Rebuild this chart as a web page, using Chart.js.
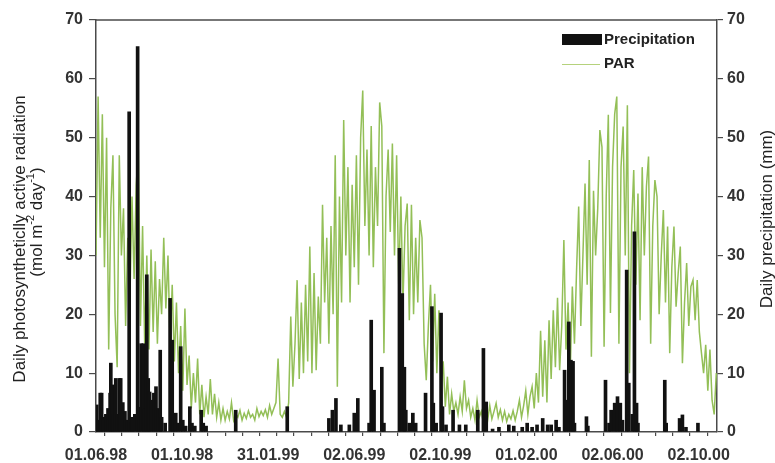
<!DOCTYPE html>
<html><head><meta charset="utf-8">
<script src="https://cdn.jsdelivr.net/npm/chart.js@4"></script>
<style>html,body{margin:0;padding:0;background:#fff;}#wrap{width:775px;height:463px;}</style>
</head><body><div id="wrap"><canvas id="c" width="775" height="463"></canvas></div>
<script>
// ---- data ----
const tickLabels = ['01.06.98','01.10.98','31.01.99','02.06.99','02.10.99','01.02.00','02.06.00','02.10.00'];
const daysPerLabel = 122;      // days between labelled ticks
const minorPerLabel = 5;       // tick intervals between labels
const totalDays = 880;
const parStep = 3;             // PAR sampled every 3 days from 01.06.98
const parValues = [
30,57,33,54,28,50,14,38,47,20,
11,47,30,38,18,33,22,40,26,42,
48,18,35,15,30,14,31,17,29,15,
26,20,33,21,30,15,25,12,22,10,
18,7,21,8,13,4,10,5,12.5,3,
8,2.5,6,3,9,3,6.5,2.5,5,2,
4,2,3.5,2.2,5,2,3,2.5,3.7,2,
3.2,2.3,3.6,2.5,3,2,4,2.6,3.5,2.8,
3.8,2.5,4.5,3,4,5,12.5,3,2.5,3.5,
2.5,5,19.6,7.7,15,25.8,9,22,10,25,
12,31.5,10,27,10.5,23,15,38.6,22,33,
15,35,20,47,7.7,40,22,53,30,45,
22,42,28,47,25,50,58,35,48,30,
52,28,45,35,56,52,13.4,40,48,34,
49,30,47,25,40,22,35,38.8,19,38.6,
20,33,22,36,33,15,8.8,18,25,12,
23.5,10,20.7,8,12,4.3,9.4,3,6.5,3.5,
5,3,6,3.5,8.8,4,5.4,2.5,4,2,
5.4,2.5,3.5,1.5,3,2,4.5,2.2,3.5,4.9,
2.5,3.8,2,3.5,1.8,3,2.2,3.6,2,3.5,
5.4,2.5,4.5,7,3,6,7.7,4,10,5,
17.2,6,15.6,5,19,9,20.7,11,22.8,10.5,
18,32.6,14,22,10,24.7,15,27.5,38.3,18,
30,42.2,25,46.2,12.8,41,30,38,51.3,48.4,
14.5,40,53.9,20.2,45,54,57,15,45,51.9,
30,55.5,10,35,44.5,25,40.5,19,45,30,
41.7,46.8,15,35,42.8,40,20,30,37.7,22,
34.9,13.4,28,34.9,21.3,27,31.5,11.7,22,28.7,
18,24.7,25.8,19,25.8,17,13.4,10,14.8,7,
14,5.4,3,10
];
const rainDays = [1,3,6,8,11,14,17,20,21,23,25,28,30,33,35,38,41,44,47,50,52,55,59,61,64,67,69,72,74,76,79,82,85,88,91,93,98,105,108,110,113,116,120,123,127,133,136,140,149,152,156,198,271,330,335,340,347,359,366,371,387,390,394,405,408,430,434,437,439,444,449,453,467,476,478,482,489,491,496,506,515,524,541,549,553,562,571,585,592,604,611,618,625,633,640,645,652,656,664,666,670,673,676,678,695,697,722,727,730,735,739,743,746,752,755,760,763,766,768,806,808,827,831,836,853];
const rainMm = [4.6,2,6.6,6.6,2.5,3,4,6.6,11.7,8,3,9.1,3,9.1,9.1,5,3.5,2,54.4,1.5,2.5,3,65.5,4.2,15,15,4,26.7,9.1,6.8,5.4,6.6,7.7,4,13.9,2.5,1.5,22.7,15.6,3,3.2,1.5,14.5,2,1,4.3,1.5,1,3.7,1.5,1,3.7,4.3,2.3,3.7,5.7,1.2,1.2,3.2,5.7,1.5,19,7.1,11,1.5,31.2,23.5,11,3.7,1.5,3.2,1.5,6.6,21.3,4.9,1.5,20.2,4.3,1.2,3.7,1.2,1.2,3.7,14.2,5.1,0.5,0.8,1.2,1,0.8,1.5,0.8,1.2,2.3,1.2,1.2,2,0.8,10.5,5.4,18.7,12.2,12,1.5,2.6,1,8.8,1.5,3.7,4.9,6,4.9,2,27.5,8.3,3,34,4.9,1.5,8.8,1.5,2.3,2.9,0.8,1.5];

const leftTitle1 = 'Daily photosyntheticlly active radiation';
const leftTitle2 = [['(mol m',false],['-2',true],[' day',false],['-1',true],[')',false]];
const rightTitle = 'Daily precipitation (mm)';
const legendNames = ['Precipitation','PAR'];

// ---- styles ----
const AX = '#4a4a4a';
const GREEN = '#93bf57';
const FONT = '"Liberation Sans", Arial, Helvetica, sans-serif';

const parPoints = parValues.map((v,i)=>({x:i*parStep, y:v}));
const rainPoints = rainDays.map((d,i)=>({x:d, y:rainMm[i]}));
const xTicks = [];
for (let k=0; k<=(tickLabels.length-1)*minorPerLabel + 1; k++) {
  const v = k*daysPerLabel/minorPerLabel;
  if (v <= totalDays) xTicks.push(v);
}

function drawRich(ctx, parts, size, weight) {
  const big = weight+' '+size+'px '+FONT, small = weight+' '+Math.round(size*0.62)+'px '+FONT;
  let w = 0;
  parts.forEach(p=>{ctx.font = p[1]?small:big; w += ctx.measureText(p[0]).width;});
  let x = -w/2;
  parts.forEach(p=>{
    ctx.font = p[1]?small:big;
    ctx.fillText(p[0], x, p[1] ? -size*0.38 : 0);
    x += ctx.measureText(p[0]).width;
  });
}

const decor = {
  id:'decor',
  afterDraw(chart){
    const ctx = chart.ctx, a = chart.chartArea;
    ctx.save();
    ctx.strokeStyle = AX; ctx.lineWidth = 1.5;
    ctx.beginPath(); ctx.moveTo(a.left, a.top); ctx.lineTo(a.right, a.top); ctx.stroke();
    ctx.fillStyle = '#222'; ctx.textAlign='center'; ctx.textBaseline='middle';
    ctx.save(); ctx.translate(20, 239); ctx.rotate(-Math.PI/2);
    ctx.font = '17px '+FONT; ctx.fillText(leftTitle1, 0, 0); ctx.restore();
    ctx.save(); ctx.translate(37, 222); ctx.rotate(-Math.PI/2);
    ctx.textAlign='left'; drawRich(ctx, leftTitle2, 17, 'normal'); ctx.restore();
    ctx.save(); ctx.translate(767, 219); ctx.rotate(-Math.PI/2);
    ctx.font = '17px '+FONT; ctx.fillText(rightTitle, 0, 0); ctx.restore();
    ctx.fillStyle = '#111'; ctx.fillRect(562, 34, 40, 11);
    ctx.strokeStyle = '#b5d27c'; ctx.lineWidth = 1.2;
    ctx.beginPath(); ctx.moveTo(562, 64.5); ctx.lineTo(600, 64.5); ctx.stroke();
    ctx.fillStyle = '#222'; ctx.textAlign='left';
    ctx.font = 'bold 15px '+FONT;
    ctx.fillText(legendNames[0], 604, 40);
    ctx.fillText(legendNames[1], 604, 64);
    ctx.restore();
  }
};

const tickFont = {family: FONT, size: 16, weight: 'bold'};
new Chart(document.getElementById('c'), {
  type: 'bar',
  data: {
    datasets: [
      {type:'bar', label:legendNames[0], data: rainPoints, yAxisID:'yR', backgroundColor:'#111', borderWidth:0, barThickness:3, order:0},
      {type:'line', label:legendNames[1], data: parPoints, yAxisID:'yL', borderColor:GREEN, borderWidth:1.5, pointRadius:0, tension:0, fill:false, order:1}
    ]
  },
  options: {
    responsive:false, animation:false, devicePixelRatio:1,
    layout:{padding:{top:20, left:0, right:0, bottom:0}},
    plugins:{legend:{display:false}, tooltip:{enabled:false}},
    scales:{
      x:{type:'linear', min:0, max:totalDays, offset:false,
        afterFit(s){ s.height = 31; },
        afterBuildTicks(s){ s.ticks = xTicks.map(v=>({value:v})); },
        grid:{drawOnChartArea:false, drawTicks:true, tickLength:4, color:AX, lineWidth:1.2},
        border:{display:true, color:AX, width:1.5},
        ticks:{autoSkip:false, maxRotation:0, padding:10, color:'#333', font:tickFont,
          callback(v){ const r = v/daysPerLabel; return Math.abs(r-Math.round(r))<1e-6 ? tickLabels[Math.round(r)] : ''; }}
      },
      yL:{position:'left', min:0, max:70,
        afterFit(s){ s.width = 96; },
        grid:{drawOnChartArea:false, drawTicks:true, tickLength:7, color:AX, lineWidth:1.2},
        border:{display:true, color:AX, width:1.5},
        ticks:{stepSize:10, padding:6, color:'#333', font:tickFont}
      },
      yR:{position:'right', min:0, max:70,
        afterFit(s){ s.width = 58; },
        grid:{drawOnChartArea:false, drawTicks:true, tickLength:6, color:AX, lineWidth:1.2},
        border:{display:true, color:AX, width:1.5},
        ticks:{stepSize:10, padding:4, color:'#333', font:tickFont}
      }
    }
  },
  plugins:[decor]
});
</script>
</body></html>
